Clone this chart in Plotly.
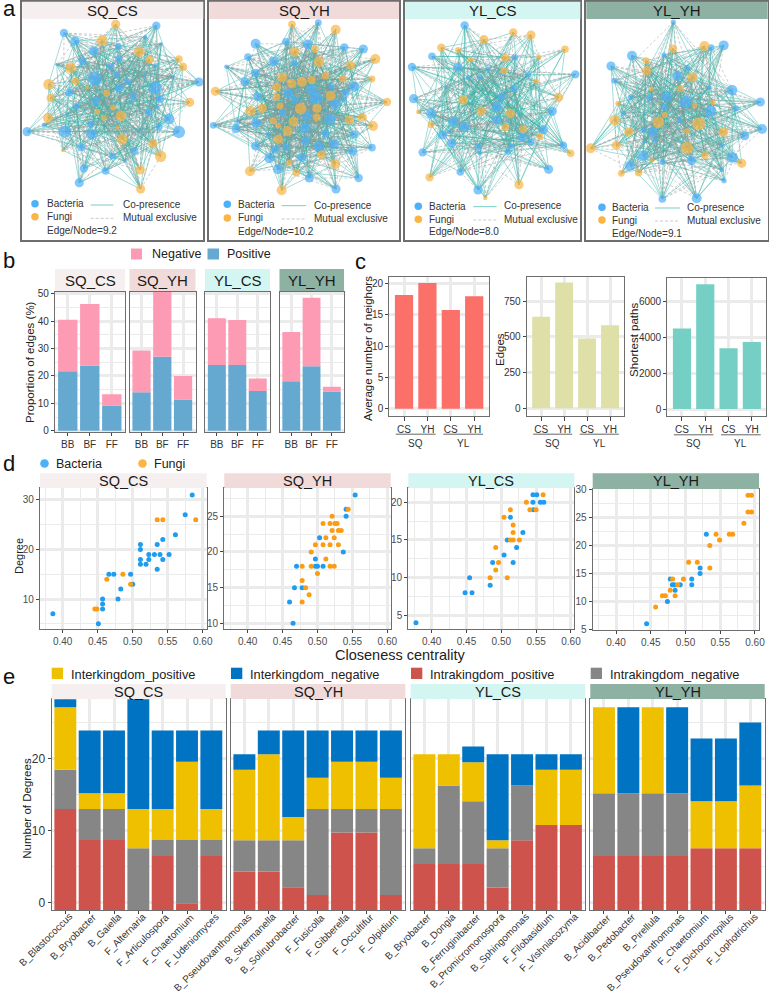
import plotly.graph_objects as go

W, H = 769, 991
FONT = "Liberation Sans"
PANELS = ["SQ_CS", "SQ_YH", "YL_CS", "YL_YH"]
HEAD = ["#F5F0EF", "#F0DBDA", "#D4F6F3", "#8DB1A3"]
BLUE_N, ORANGE_N = "#4DB1F9", "#F9B545"
GRID = "#EBEBEB"
FRAME = "#6E6E6E"

# ---------- panel a: nodes (x, y, weight) ----------
# Individual edges cannot be read from the hairballs. Their wiring is a fixed pattern
# between the nodes, with counts taken from panel c (edges) and panel b (positive share).
A_SQCS_B = [(192,99,10),(225,123,11),(282,153,11),(355,140,8),(436,110,4),(469,77,10),(484,131,3),(247,182,10),(356,176,9),(170,193,3),(333,200,8),(467,198,5),(285,236,17),(350,224,7),(383,245,8),(434,227,4),(521,229,3),(597,246,11),(358,265,10),(466,264,16),(208,277,10),(400,288,8),(480,297,10),(288,302,10),(392,307,4),(228,320,8),(470,321,5),(201,342,4),(446,337,9),(507,357,13),(273,372,8),(132,375,5),(478,381,8),(81,395,11),(195,395,15),(275,402,13),(419,393,3),(537,396,15),(244,442,10),(404,453,9),(338,468,8),(376,484,3),(252,505,10),(317,513,9),(238,548,11)]
A_SQCS_F = [(347,73,11),(306,122,13),(418,155,13),(449,179,10),(537,177,9),(549,200,10),(212,203,13),(227,244,9),(146,253,13),(261,263,4),(320,279,8),(152,294,10),(569,307,11),(292,335,7),(340,323,7),(144,354,12),(311,353,7),(363,347,13),(353,382,4),(367,418,13),(459,431,11),(189,451,4),(482,469,14),(421,510,11),(422,567,11)]
A_SQYH_B = [(955,68,8),(767,131,12),(858,125,9),(923,133,12),(1033,142,10),(1090,147,11),(744,171,9),(822,184,12),(883,190,8),(679,200,5),(767,219,10),(735,245,11),(866,281,12),(935,268,13),(995,259,7),(1063,260,12),(1038,277,9),(773,290,10),(948,295,16),(886,300,8),(1032,298,7),(1005,312,13),(848,338,9),(920,348,11),(990,357,14),(713,363,4),(768,369,12),(640,376,8),(708,386,11),(916,383,13),(1063,403,10),(977,400,10),(804,404,5),(917,423,11),(767,438,11),(825,449,9),(858,442,8),(957,440,12),(1002,433,12),(1058,454,11),(1116,443,9),(808,475,12),(906,472,11),(834,508,12),(928,534,11),(1008,567,11),(1076,534,10)]
A_SQYH_F = [(876,73,9),(1007,89,12),(884,155,12),(944,148,9),(1126,177,12),(957,185,13),(1052,195,11),(847,232,12),(875,250,11),(906,246,12),(935,240,10),(976,227,9),(1028,236,9),(1116,237,8),(830,261,11),(646,274,11),(992,287,12),(830,291,9),(1161,306,10),(787,325,11),(840,318,8),(752,333,12),(902,326,14),(951,325,11),(950,352,9),(1048,360,11),(1087,352,11),(880,365,12),(820,362,8),(835,377,6),(1119,378,12),(863,393,12),(835,418,11),(964,464,10),(868,488,7),(1006,492,12),(889,518,9),(750,514,12),(845,571,12)]
A_YLCS_B = [(209,76,10),(111,169,9),(51,201,10),(189,202,11),(361,172,7),(278,207,6),(399,224,7),(219,233,5),(256,233,5),(541,223,10),(152,262,3),(357,266,8),(56,296,11),(319,291,10),(306,322,12),(472,334,11),(108,341,12),(305,360,11),(175,365,12),(208,381,12),(446,389,11),(143,405,11),(381,412,11),(162,395,4),(408,426,8),(170,430,11),(250,441,7),(349,439,7),(505,436,9),(83,457,10),(338,456,7),(254,460,5),(196,516,9),(461,508,11),(249,570,11)]
A_YLCS_F = [(267,119,11),(355,97,10),(408,105,11),(139,143,10),(189,150,7),(510,148,9),(226,180,6),(331,174,10),(432,171,6),(327,212,8),(424,244,6),(205,300,12),(491,292,11),(70,336,5),(259,333,11),(346,340,11),(108,374,8),(331,382,9),(384,387,9),(435,409,8),(527,460,9),(104,532,10),(372,554,11),(271,594,5)]
A_YLYH_B = [(835,66,6),(986,136,12),(948,143,8),(711,167,12),(807,165,6),(648,198,11),(877,203,7),(847,228,12),(658,242,7),(942,263,5),(1011,270,13),(764,295,7),(707,291,6),(815,291,12),(873,306,15),(1096,306,11),(947,334,14),(1023,325,7),(809,322,8),(684,339,5),(854,362,6),(1101,387,12),(744,391,6),(773,395,12),(1049,407,11),(780,420,6),(748,426,4),(982,437,5),(744,467,13),(1012,472,13),(890,482,11),(803,486,6),(705,497,12),(981,510,5),(987,542,6),(802,597,9),(905,595,12)]
A_YLYH_F = [(928,138,12),(834,146,10),(753,182,8),(755,212,11),(892,232,12),(769,267,5),(855,266,8),(669,310,6),(954,307,6),(899,317,6),(809,345,7),(659,360,13),(790,367,14),(911,371,16),(701,396,11),(876,394,7),(985,396,12),(664,436,11),(587,445,12),(876,444,15),(930,466,9),(772,481,5),(1040,490,11),(679,520,8),(731,518,9)]
EDGE_NODE = ["9.2", "10.2", "8.0", "9.1"]

# ---------- panel b ----------
B_CATS = ["BB", "BF", "FF"]
B_POS = [[21.7, 23.8, 9.2], [14.0, 27.0, 11.4], [24.0, 24.0, 14.5], [18.0, 23.5, 14.3]]
B_NEG = [[18.8, 22.4, 4.1], [15.3, 27.0, 8.6], [17.0, 16.4, 4.5], [18.0, 25.0, 1.7]]

# ---------- panel c ----------
C_CATS = ["CS", "YH", "CS", "YH"]
C_NEIGH = [18.2, 20.1, 15.8, 18.0]
C_EDGES = [640, 880, 487, 580]
C_PATHS = [4500, 6980, 3400, 3750]

# ---------- panel d ----------
D_SQCS_BX = [.386,.451,.457,.457,.457,.466,.473,.479,.483,.497,.500,.511,.511,.511,.511,.519,.523,.523,.531,.535,.535,.539,.543,.543,.552,.561,.575,.585]
D_SQCS_BY = [7,5,10,9,8,15,15,10,12,15,13,21,20,18,17,17,19,18,19,21,16,19,22,18,19,23,27,31]
D_SQCS_FX = [.446,.449,.463,.486,.497,.535,.543,.590]
D_SQCS_FY = [8,8,14,15,13,26,26,26]
D_SQYH_BX = [.554,.541,.541,.503,.537,.497,.470,.497,.500,.508,.467,.478,.460,.465]
D_SQYH_BY = [28,26,25,22,20,19,18,18,18,18,15,15,13,10]
D_SQYH_FX = [.544,.521,.508,.518,.525,.528,.521,.530,.534,.512,.524,.497,.508,.518,.530,.491,.512,.478,.491,.518,.524,.500,.478,.483,.488,.478]
D_SQYH_FY = [26,25,24,24,24,24,23,23,23,22,22,21,21,21,21,20,19,18,18,18,18,17,16,15,14,13]
D_YLCS_BX = [.3775,.448,.458,.4545,.484,.4876,.504,.517,.522,.5086,.531,.513,.546,.5455,.551,.5455,.556,.561]
D_YLCS_BY = [4,8,8,10,9,12,13,12,14,15,16,18,19,21,21,20,20,20]
D_YLCS_FX = [.484,.5086,.492,.496,.492,.513,.517,.526,.517,.517,.504,.513,.541,.550,.536,.560]
D_YLCS_FY = [10,10,11,12,14,15,15,15,16,17,18,19,19,19,20,21]
D_YLYH_BX = [.444,.474,.485,.478,.481,.484,.4925,.509,.509,.521,.521,.530]
D_YLYH_BY = [6,10,12,14,13,13,13,14,13,15,16,22]
D_YLYH_FX = [.457,.4667,.471,.485,.478,.4887,.4815,.497,.5045,.517,.535,.535,.549,.544,.563,.568,.584,.590,.595,.590,.595]
D_YLYH_FY = [9,11,11,11,12,13,14,14,17,17,16,20,21,22,22,22,24,26,26,29,29]

# ---------- panel e ----------
E_NAMES = [
    ["B_Blastococcus","B_Bryobacter","B_Gaiella","F_Alternaria","F_Articulospora","F_Chaetomium","F_Udeniomyces"],
    ["B_Pseudoxanthomonas","B_Skermanella","B_Solirubrobacter","F_Fusicolla","F_Gibberella","F_Occultifur","F_Olpidium"],
    ["B_Bryobacter","B_Dongia","B_Ferruginibacter","B_Promicromonospora","B_Sphingomonas","F_Filobasidium","F_Vishniacozyma"],
    ["B_Acidibacter","B_Pedobacter","B_Pirellula","B_Pseudoxanthomonas","F_Chaetomium","F_Dichotomopilus","F_Lophotrichus"],
]
E_FLOOR = -1.07  # the reference's bars start below its 0 tick, at the panel floor
E_RED_TOP = [
    [13.02,8.7,8.7,-1.07,6.47,-0.14,6.47],
    [4.28,4.28,2.09,1.02,9.72,9.72,1.02],
    [5.35,5.35,5.35,2.05,8.65,10.79,10.79],
    [6.47,6.47,6.47,6.47,7.53,7.53,7.53],
]
E_GRAY = [
    [5.45,4.32,4.32,8.6,2.23,8.84,2.23],
    [4.37,4.37,6.56,12.0,3.3,3.3,12.0],
    [2.18,10.93,8.74,5.48,7.63,0,0],
    [8.73,8.73,8.73,8.73,0,0,0],
]
E_YELLOW = [
    [8.73,2.18,2.18,5.49,4.32,10.88,4.32],
    [9.82,12.0,3.25,4.33,6.56,6.56,4.33],
    [13.12,4.37,5.44,1.12,0,7.68,7.68],
    [12.0,0,12.0,0,6.56,6.56,8.75],
]
E_BLUE = [
    [2.1,8.75,8.75,16.28,10.93,4.37,10.93],
    [2.18,3.3,12.05,6.6,4.37,4.37,6.6],
    [0,0,2.19,12.0,4.37,2.18,2.18],
    [0,12.0,0,12.0,8.75,8.75,8.79],
]
E_COLORS = {"red": "#CD534C", "gray": "#868686", "yellow": "#EFC000", "blue": "#0073C2"}

fig = go.Figure()
shapes, annos, axes = [], [], {}
counter = [0]


def px(x):
    return x / W


def py(y):
    return 1 - y / H


def text(x, y, s, size=11, color="#222222", anchor="left", angle=0, va="middle", xref="paper"):
    annos.append(dict(x=px(x) if xref == "paper" else x, y=py(y), xref=xref, yref="paper", text=s,
                      showarrow=False, xanchor=anchor, yanchor=va, textangle=angle,
                      font=dict(family=FONT, size=size, color=color)))


def rect(x0, y0, x1, y1, color):
    shapes.append(dict(type="rect", xref="paper", yref="paper", x0=px(x0), x1=px(x1),
                       y0=py(y1), y1=py(y0), fillcolor=color, line=dict(width=0), layer="above"))


def header(x0, y0, x1, y1, name, i, size=15):
    rect(x0, y0, x1, y1, HEAD[i])
    text((x0 + x1) / 2, (y0 + y1) / 2, name, size=size, color="#1A1A1A", anchor="center")


def make_axes(x0, x1, y0, y1, xr, yr, xkw=None, ykw=None, lw=1.2):
    counter[0] += 1
    n = counter[0]
    sx = "" if n == 1 else str(n)
    base = dict(showline=True, mirror=True, linecolor=FRAME, linewidth=lw, zeroline=False,
                ticks="outside", ticklen=3, tickwidth=1, tickcolor="#444444",
                gridcolor=GRID, gridwidth=2.5, automargin=False)
    xa = dict(base, domain=[px(x0), px(x1)], range=xr, anchor="y" + sx)
    ya = dict(base, domain=[py(y1), py(y0)], range=yr, anchor="x" + sx)
    xa.update(xkw or {})
    ya.update(ykw or {})
    axes["xaxis" + sx] = xa
    axes["yaxis" + sx] = ya
    return "x" + sx, "y" + sx


def tfont(size, color="#333333"):
    return dict(family=FONT, size=size, color=color)


# ---------- a: networks ----------
A_BOX = [(22.3, 203.3), (209.3, 399), (405.3, 580.3), (586.3, 767.7)]
A_LOCAL = [(67, 610), (628, 1197), (31, 556), (574, 1118)]
A_B = [A_SQCS_B, A_SQYH_B, A_YLCS_B, A_YLYH_B]
A_F = [A_SQCS_F, A_SQYH_F, A_YLCS_F, A_YLYH_F]
A_LEG = [
    dict(dot=105, t=134, l0=272, l1=340, t2=364, y=(611, 650, 690), ly=(615, 655)),
    dict(dot=682, t=708, l0=845, l1=918, t2=936, y=(613, 654, 693), ly=(617, 657)),
    dict(dot=70, t=96, l0=235, l1=305, t2=321, y=(619, 658, 695), ly=(620, 660)),
    dict(dot=621, t=646, l0=780, l1=855, t2=870, y=(622, 660, 700), ly=(624, 663)),
]
TEAL = "rgba(52,176,165,0.6)"
DASH = "rgba(150,150,150,0.75)"
POS_SHARE = [sum(B_POS[i]) / (sum(B_POS[i]) + sum(B_NEG[i])) for i in range(4)]
TEAL_STEPS = [7, 11, 13, 3, 17, 19, 5, 23, 29, 9, 15, 21, 25, 27]
DASH_STEPS = [2, 4, 6, 8, 10, 12, 14, 16, 18, 20, 22, 24, 26]


def wire(nodes, steps, count):
    """Fixed wiring: skips only the outermost rim pairs, so the rim nodes fan inwards as in the reference."""
    cx = sum(p[0] for p in nodes) / len(nodes)
    cy = sum(p[1] for p in nodes) / len(nodes)
    r = [((p[0] - cx) ** 2 + (p[1] - cy) ** 2) ** 0.5 for p in nodes]
    rim = 0.78 * max(r)
    xs, ys, made = [], [], 0
    n = len(nodes)
    for s in steps:
        for i in range(n):
            if made >= count:
                return xs, ys
            j = (i + s) % n
            if r[i] > rim and r[j] > rim:
                continue
            xs += [nodes[i][0], nodes[j][0], None]
            ys += [nodes[i][1], nodes[j][1], None]
            made += 1
    return xs, ys


for i, name in enumerate(PANELS):
    bx0, bx1 = A_BOX[i]
    hidden = dict(showgrid=False, ticks="", showticklabels=False)
    xa, ya = make_axes(bx0, bx1, 1.7, 240, list(A_LOCAL[i]), [720, 5], hidden, hidden, lw=1.5)
    nodes = A_B[i] + A_F[i]
    pos_n = round(C_EDGES[i] * POS_SHARE[i])
    gx, gy = wire(nodes, DASH_STEPS, C_EDGES[i] - pos_n)
    tx, ty = wire(nodes, TEAL_STEPS, pos_n)
    fig.add_trace(go.Scatter(x=tx, y=ty, xaxis=xa, yaxis=ya, mode="lines", hoverinfo="skip", showlegend=False,
                             line=dict(color=TEAL, width=0.75)))
    fig.add_trace(go.Scatter(x=gx, y=gy, xaxis=xa, yaxis=ya, mode="lines", hoverinfo="skip", showlegend=False,
                             line=dict(color=DASH, width=0.6, dash="3px,2px")))
    for arr, c in ((A_B[i], BLUE_N), (A_F[i], ORANGE_N)):
        fig.add_trace(go.Scatter(x=[p[0] for p in arr], y=[p[1] for p in arr], xaxis=xa, yaxis=ya, mode="markers",
                                 hoverinfo="skip", showlegend=False,
                                 marker=dict(color=c, size=[p[2] * 0.78 + 0.6 for p in arr], line=dict(width=0))))
    L = A_LEG[i]
    fig.add_trace(go.Scatter(x=[L["dot"], L["dot"]], y=[L["y"][0], L["y"][1]], xaxis=xa, yaxis=ya, mode="markers",
                             hoverinfo="skip", showlegend=False,
                             marker=dict(color=[BLUE_N, ORANGE_N], size=7.5, line=dict(width=0))))
    fig.add_trace(go.Scatter(x=[L["l0"], L["l1"]], y=[L["ly"][0]] * 2, xaxis=xa, yaxis=ya, mode="lines",
                             hoverinfo="skip", showlegend=False, line=dict(color="#6CC7C1", width=0.9)))
    fig.add_trace(go.Scatter(x=[L["l0"], L["l1"]], y=[L["ly"][1]] * 2, xaxis=xa, yaxis=ya, mode="lines",
                             hoverinfo="skip", showlegend=False, line=dict(color="#BDBDBD", width=0.8, dash="3px,2px")))
    off = {0: 0, 1: 0, 2: 395 * 3, 3: 395 * 3}[i]
    for tx_, ty_, s in ((L["t"], L["y"][0], "Bacteria"), (L["t"], L["y"][1], "Fungi"),
                        (L["t"], L["y"][2], "Edge/Node=" + EDGE_NODE[i]),
                        (L["t2"], L["ly"][0] - 2, "Co-presence"), (L["t2"], L["ly"][1] - 2, "Mutual exclusive")):
        text((tx_ + off) / 3, ty_ / 3, s, size=10, color="#333333")
    header(bx0, 1.7, bx1, 19, name, i, size=15)

# ---------- b: stacked bars ----------
B_BOX = [(55, 125), (129.5, 195.5), (205, 270), (279.5, 344)]
for i, name in enumerate(PANELS):
    x0, x1 = B_BOX[i]
    xkw = dict(tickmode="array", tickvals=[0, 1, 2], ticktext=B_CATS, tickfont=tfont(10))
    ykw = dict(tickmode="array", tickvals=[0, 10, 20, 30, 40, 50], showticklabels=(i == 0), tickfont=tfont(10),
               ticks="outside" if i == 0 else "", minor=dict(dtick=5, showgrid=True, gridcolor=GRID, gridwidth=1))
    xa, ya = make_axes(x0, x1, 292, 431.8, [-0.58, 2.6], [-0.4, 50.6], xkw, ykw)
    fig.add_trace(go.Bar(x=[0, 1, 2], y=B_POS[i], base=0, width=0.88, xaxis=xa, yaxis=ya, name="Positive",
                         marker=dict(color="#65A8D0", line=dict(width=0)), showlegend=False))
    fig.add_trace(go.Bar(x=[0, 1, 2], y=B_NEG[i], base=B_POS[i], width=0.88, xaxis=xa, yaxis=ya, name="Negative",
                         marker=dict(color="#FD9BB5", line=dict(width=0)), showlegend=False))
    header(x0, 269, x1, 291, name, i, size=15)
text(30, 362, "Proportion of edges (%)", size=11.5, angle=-90, anchor="center", color="#222222")
rect(131, 248.5, 142, 259.5, "#FD9BB5")
text(150, 254, "Negative", size=12.5)
rect(207.5, 248.5, 219, 259.5, "#65A8D0")
text(225, 254, "Positive", size=12.5)

# ---------- c: bars ----------
C_SET = [
    dict(x=(389.3, 488.7), y=(276.7, 415.7), yr=[-1.12, 21.12], ticks=[0, 5, 10, 15, 20], minor=2.5, vals=C_NEIGH,
         color="#FB7069", title="Average number of neighors", tx=368, ty=349),
    dict(x=(526.7, 624.3), y=(276.7, 415.7), yr=[-52, 920], ticks=[0, 250, 500, 750], minor=125, vals=C_EDGES,
         color="#DFDFA8", title="Edges", tx=500, ty=349),
    dict(x=(667.3, 766.3), y=(278.3, 416.3), yr=[-408, 7310], ticks=[0, 2000, 4000, 6000], minor=1000, vals=C_PATHS,
         color="#76CFC5", title="Shortest paths", tx=634, ty=340),
]
for c in C_SET:
    xkw = dict(tickmode="array", tickvals=[0, 1, 2, 3], ticktext=C_CATS, tickfont=tfont(10), ticklen=4)
    ykw = dict(tickmode="array", tickvals=c["ticks"], tickfont=tfont(10),
               minor=dict(dtick=c["minor"], showgrid=False))
    xa, ya = make_axes(c["x"][0], c["x"][1], c["y"][0], c["y"][1], [-0.63, 3.62], c["yr"], xkw, ykw)
    fig.add_trace(go.Bar(x=[0, 1, 2, 3], y=c["vals"], base=0, width=0.78, xaxis=xa, yaxis=ya, showlegend=False,
                         marker=dict(color=c["color"], line=dict(width=0))))
    text(c["tx"], c["ty"], c["title"], size=11.5, angle=-90, anchor="center")
    for lab, lo, hi in (("SQ", -0.35, 1.35), ("YL", 1.68, 3.38)):
        shapes.append(dict(type="line", xref=xa, yref="paper", x0=lo, x1=hi, y0=py(c["y"][1] + 18.5),
                           y1=py(c["y"][1] + 18.5), line=dict(color="#555555", width=0.9)))
        annos.append(dict(x=(lo + hi) / 2, y=py(c["y"][1] + 27.5), xref=xa, yref="paper", text=lab, showarrow=False,
                          xanchor="center", yanchor="middle", font=tfont(10)))

# ---------- d: scatter ----------
D_SET = [
    dict(x=(40, 206.7), y=(488.3, 629.3), xr=[.3676, .6057], yr=[3.88, 32.36], ticks=[10, 20, 30], minor=5,
         b=(D_SQCS_BX, D_SQCS_BY), f=(D_SQCS_FX, D_SQCS_FY), head=473.3),
    dict(x=(224.3, 390.7), y=(488.3, 629.3), xr=[.3665, .6049], yr=[9.16, 28.93], ticks=[10, 15, 20, 25], minor=2.5,
         b=(D_SQYH_BX, D_SQYH_BY), f=(D_SQYH_FX, D_SQYH_FY), head=473.3),
    dict(x=(408.3, 574.3), y=(488.3, 629), xr=[.3665, .6048], yr=[3.18, 21.86], ticks=[5, 10, 15, 20], minor=2.5,
         b=(D_YLCS_BX, D_YLCS_BY), f=(D_YLCS_FX, D_YLCS_FY), head=473.3),
    dict(x=(592.7, 759), y=(489.3, 630), xr=[.3664, .6058], yr=[4.9, 30.05], ticks=[5, 10, 15, 20, 25, 30], minor=2.5,
         b=(D_YLYH_BX, D_YLYH_BY), f=(D_YLYH_FX, D_YLYH_FY), head=473.3),
]
for i, d in enumerate(D_SET):
    xkw = dict(tickmode="array", tickvals=[.40, .45, .50, .55, .60], ticktext=["0.40", "0.45", "0.50", "0.55", "0.60"],
               tickfont=tfont(10, "#4D4D4D"), minor=dict(dtick=.025, showgrid=True, gridcolor=GRID, gridwidth=1))
    ykw = dict(tickmode="array", tickvals=d["ticks"], tickfont=tfont(10, "#4D4D4D"),
               minor=dict(dtick=d["minor"], showgrid=True, gridcolor=GRID, gridwidth=1))
    xa, ya = make_axes(d["x"][0], d["x"][1], d["y"][0], d["y"][1], d["xr"], d["yr"], xkw, ykw)
    fig.add_trace(go.Scatter(x=d["b"][0], y=d["b"][1], xaxis=xa, yaxis=ya, mode="markers", name="Bacteria",
                             showlegend=False, marker=dict(color="#1E9CF0", size=5, line=dict(width=0))))
    fig.add_trace(go.Scatter(x=d["f"][0], y=d["f"][1], xaxis=xa, yaxis=ya, mode="markers", name="Fungi",
                             showlegend=False, marker=dict(color="#FB9C13", size=5, line=dict(width=0))))
    header(d["x"][0], d["head"], d["x"][1], d["y"][0] - 0.3, PANELS[i], i, size=14.5)
text(19, 556, "Degree", size=11, angle=-90, anchor="center")
text(400, 655, "Closeness centrality", size=14.5, anchor="center")
LEG_X = [44.5, 142.5]
for xp, s, col, tx_ in ((LEG_X[0], "Bacteria", "#4DB1F9", 54), (LEG_X[1], "Fungi", "#F9B545", 152)):
    shapes.append(dict(type="circle", xref="paper", yref="paper", x0=px(xp - 4.3), x1=px(xp + 4.3),
                       y0=py(463.5 + 4.3), y1=py(463.5 - 4.3), fillcolor=col, line=dict(width=0), layer="above"))
    text(tx_, 464, s, size=12.5)

# ---------- e: stacked categories ----------
E_BOX = [(51.7, 225.7), (230.7, 405.3), (410.7, 585.3), (590.3, 764.7)]
for i, name in enumerate(PANELS):
    x0, x1 = E_BOX[i]
    xs = list(range(7))
    xkw = dict(tickmode="array", tickvals=xs, showticklabels=False)
    ykw = dict(tickmode="array", tickvals=[0, 10, 20], showticklabels=(i == 0), tickfont=tfont(12),
               ticks="outside" if i == 0 else "", minor=dict(dtick=5, showgrid=True, gridcolor=GRID, gridwidth=1))
    xa, ya = make_axes(x0, x1, 699.3, 910, [-0.56, 6.59], [E_FLOOR, 28.3], xkw, ykw)
    red = [v - E_FLOOR for v in E_RED_TOP[i]]
    base = [E_FLOOR] * 7
    for vals, key, nm in ((red, "red", "Intrakingdom_positive"), (E_GRAY[i], "gray", "Intrakingdom_negative"),
                          (E_YELLOW[i], "yellow", "Interkingdom_positive"), (E_BLUE[i], "blue", "Interkingdom_negative")):
        fig.add_trace(go.Bar(x=xs, y=vals, base=list(base), width=0.9, xaxis=xa, yaxis=ya, name=nm, showlegend=False,
                             marker=dict(color=E_COLORS[key], line=dict(width=0))))
        base = [b + v for b, v in zip(base, vals)]
    for k, lab in zip(xs, E_NAMES[i]):
        annos.append(dict(x=k, y=py(908.5), xref=xa, yref="paper", text=lab, showarrow=False, xshift=12,
                          xanchor="right", yanchor="top", textangle=-45, font=tfont(9.9)))
    header(x0, 684, x1, 699, name, i, size=14.5)
text(26.7, 808, "Number of Degrees", size=11.5, angle=-90, anchor="center")
for bx, col, tx_, s in ((51.7, "yellow", 68.5, "Interkingdom_positive"), (231, "blue", 248, "Interkingdom_negative"),
                        (411, "red", 428, "Intrakingdom_positive"), (590.7, "gray", 607.7, "Intrakingdom_negative")):
    rect(bx, 667.7, bx + 11.3, 679, E_COLORS[col])
    text(tx_, 674.5, s, size=12.8)

# ---------- panel letters ----------
for letter, x, y in (("a", 1, 8), ("b", 1, 260), ("c", 353, 261), ("d", 1, 463), ("e", 1, 676)):
    text(x, y, letter, size=22, color="#111111")

fig.update_layout(width=W, height=H, margin=dict(l=0, r=0, t=0, b=0), autosize=False, barmode="overlay",
                  paper_bgcolor="white", plot_bgcolor="white", showlegend=False, shapes=shapes, annotations=annos,
                  font=dict(family=FONT), **axes)
fig.write_html("out.html", config={"displayModeBar": False},
               post_script="document.body.style.margin='0';document.documentElement.style.overflow='hidden';")
